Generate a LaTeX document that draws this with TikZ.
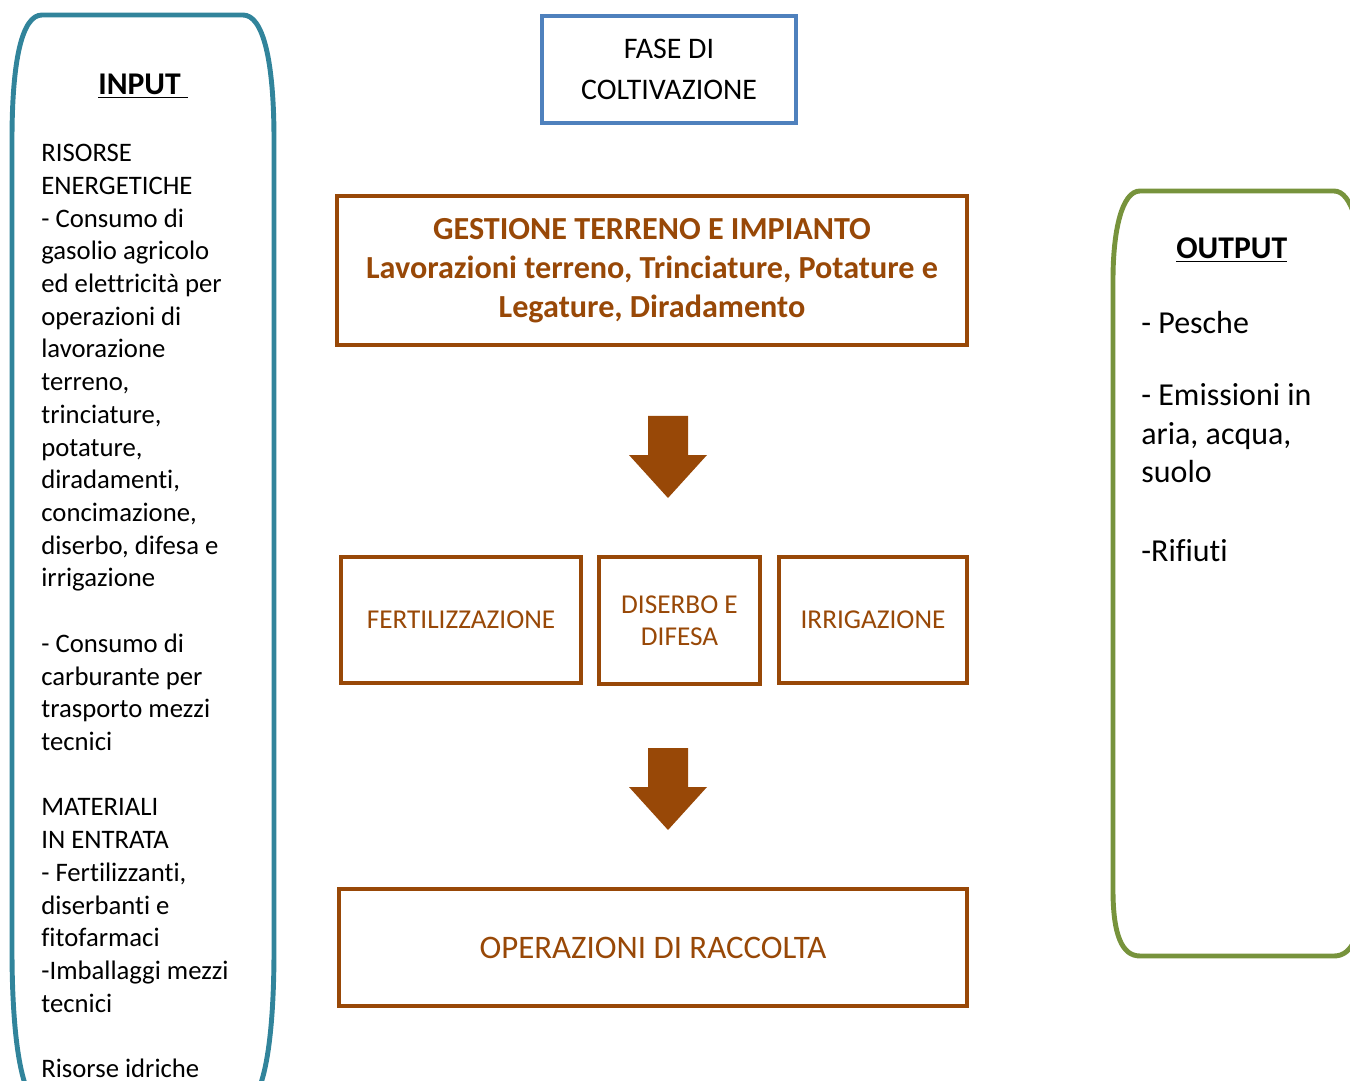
\documentclass[tikz,border=0pt]{standalone}
\usepackage{fontspec}
\setmainfont[Ligatures=NoCommon]{Carlito}

\definecolor{tealline}{HTML}{31849B}
\definecolor{greenline}{HTML}{77933C}
\definecolor{blueline}{HTML}{4F81BD}
\definecolor{brownline}{HTML}{984807}

\begin{document}
\begin{tikzpicture}[x=0.02cm, y=-0.02cm,
    phase/.style={draw=brownline, line width=2.3pt, inner sep=0pt, align=center,
      text=brownline},
    blockarrow/.style={fill=brownline}]
  \useasboundingbox (0,0) rectangle (1350,1081);
  \clip (0,0) rectangle (1350,1081);

  % left panel (input)
  \draw[tealline, line width=2.8pt] (42,15) -- (243,15)
    .. controls (263,15) and (274,60) .. (274,140) -- (274,950)
    .. controls (274,1040) and (264,1105) .. (243,1105) -- (42,1105)
    .. controls (22,1105) and (12,1040) .. (12,950) -- (12,140)
    .. controls (12,60) and (22,15) .. (42,15) -- cycle;
  \node[anchor=base west, inner sep=0pt, font=\fontsize{18}{21}\selectfont\bfseries]
    (inhead) at (98,95) {\underline{INPUT\ }};
  \node[anchor=north west, inner sep=0pt, align=left,
    font=\fontsize{15.2}{18.62}\selectfont] (intext) at (41,144)
    {RISORSE\\ENERGETICHE\\- Consumo di\\gasolio agricolo\\ed elettricità per\\
     operazioni di\\lavorazione\\terreno,\\trinciature,\\potature,\\diradamenti,\\
     concimazione,\\diserbo, difesa e\\irrigazione\\[18.62pt]
     - Consumo di\\carburante per\\trasporto mezzi\\tecnici\\[18.62pt]
     MATERIALI\\IN ENTRATA\\- Fertilizzanti,\\diserbanti e\\fitofarmaci\\
     -Imballaggi mezzi\\tecnici\\[18.62pt]
     Risorse idriche};

  % right panel (output)
  \draw[greenline, line width=2.8pt] (1140,191) -- (1334,191)
    .. controls (1352,191) and (1362,230) .. (1362,280) -- (1362,890)
    .. controls (1362,935) and (1352,956) .. (1334,956) -- (1140,956)
    .. controls (1122,956) and (1113,935) .. (1113,890) -- (1113,280)
    .. controls (1113,230) and (1122,191) .. (1140,191) -- cycle;
  \node[anchor=base west, inner sep=0pt, font=\fontsize{18}{21}\selectfont\bfseries]
    (outhead) at (1176,259) {\underline{OUTPUT}};
  \node[anchor=north west, inner sep=0pt, align=left,
    font=\fontsize{18.2}{22.1}\selectfont] (outtext) at (1141,311)
    {- Pesche\\[18.7pt]- Emissioni in\\aria, acqua,\\suolo\\[22.7pt]-Rifiuti};

  % central flow
  \node[draw=blueline, line width=2.3pt, inner sep=0pt, align=center,
    minimum width=5.08cm, minimum height=2.14cm,
    font=\fontsize{17}{23.8}\selectfont] (fase) at (669,69.5)
    {FASE DI\\COLTIVAZIONE};
  \node[phase, minimum width=12.6cm, minimum height=2.98cm,
    font=\fontsize{18.3}{22.1}\selectfont\bfseries] (gest) at (652,270.5)
    {GESTIONE TERRENO E IMPIANTO\\Lavorazioni terreno, Trinciature, Potature e\\
     Legature, Diradamento};
  \coordinate (ar1) at (668,416);
  \fill[blockarrow] (ar1) ++(-20,0) -- ++(40,0) -- ++(0,39) -- ++(19,0)
    -- ++(-39,43) -- ++(-39,-43) -- ++(19,0) -- cycle;
  \node[phase, minimum width=4.8cm, minimum height=2.52cm,
    font=\fontsize{15.5}{18.1}\selectfont] (fert) at (461,620) {FERTILIZZAZIONE};
  \node[phase, minimum width=3.22cm, minimum height=2.54cm,
    font=\fontsize{15.5}{18.1}\selectfont] (dis) at (679.5,620.5) {DISERBO E\\DIFESA};
  \node[phase, minimum width=3.76cm, minimum height=2.52cm,
    font=\fontsize{15.5}{18.1}\selectfont] (irr) at (873,620) {IRRIGAZIONE};
  \coordinate (ar2) at (668,748);
  \fill[blockarrow] (ar2) ++(-20,0) -- ++(40,0) -- ++(0,39) -- ++(19,0)
    -- ++(-39,43) -- ++(-39,-43) -- ++(19,0) -- cycle;
  \node[phase, minimum width=12.56cm, minimum height=2.34cm,
    font=\fontsize{18.7}{22}\selectfont] (racc) at (653,947.5) {OPERAZIONI DI RACCOLTA};
\end{tikzpicture}
\end{document}
